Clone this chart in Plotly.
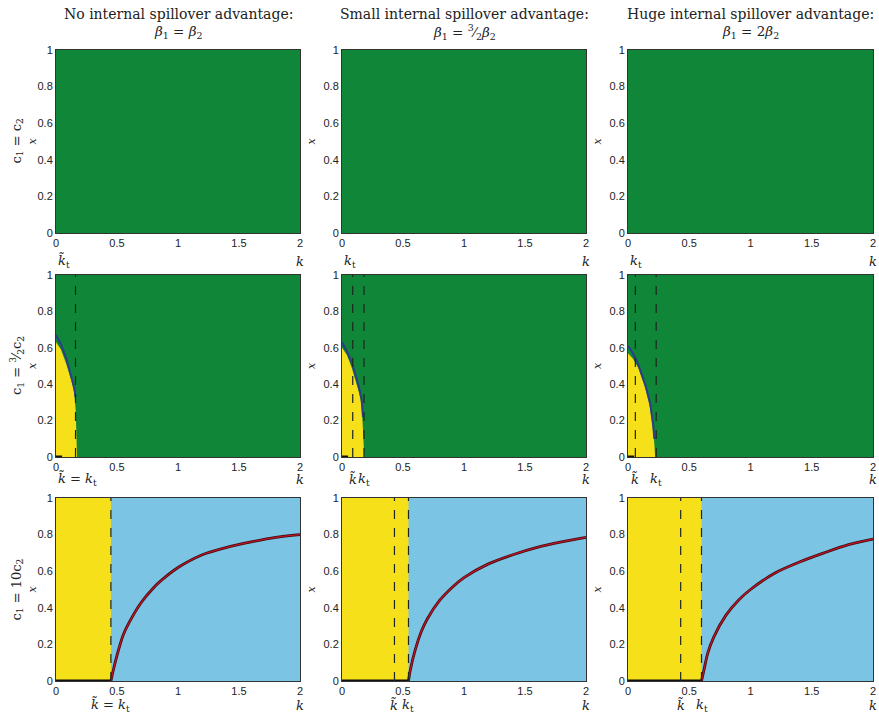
import plotly.graph_objects as go

# ---------------- data ----------------
col_titles = ["No internal spillover advantage:", "Small internal spillover advantage:", "Huge internal spillover advantage:"]
col_subtitles = ["<i>β</i><sub>1</sub> = <i>β</i><sub>2</sub>",
                 "<i>β</i><sub>1</sub> = <sup>3</sup>⁄<sub>2</sub><i>β</i><sub>2</sub>",
                 "<i>β</i><sub>1</sub> = 2<i>β</i><sub>2</sub>"]
row_labels = ["c<sub>1</sub> = c<sub>2</sub>", "c<sub>1</sub> = <sup>3</sup>⁄<sub>2</sub>c<sub>2</sub>", "c<sub>1</sub> = 10c<sub>2</sub>"]
x_ticks = [0, 0.5, 1, 1.5, 2]
x_ticklabels = ["0", "0.5", "1", "1.5", "2"]
y_ticks = [0, 0.2, 0.4, 0.6, 0.8, 1]
y_ticklabels = ["0", "0.2", "0.4", "0.6", "0.8", "1"]

k_range = [0, 2]
x_range = [0, 1]

# middle row (c1 = 3/2 c2): yellow region boundary and blue boundary curve
mid_yellow_k = [[0, 0, 0.04, 0.085, 0.125, 0.15, 0.162, 0.168, 0.172],
                [0, 0, 0.04, 0.08, 0.137, 0.16, 0.172, 0.178, 0.182],
                [0, 0, 0.04, 0.083, 0.14, 0.18, 0.21, 0.218, 0.222]]
mid_yellow_x = [[0, 0.63, 0.59, 0.51, 0.42, 0.35, 0.25, 0.10, 0],
                [0, 0.60, 0.56, 0.49, 0.36, 0.29, 0.15, 0.06, 0],
                [0, 0.57, 0.54, 0.49, 0.38, 0.27, 0.12, 0.04, 0]]
mid_blue_k = [[0, 0.04, 0.085, 0.125, 0.15, 0.16],
              [0, 0.04, 0.08, 0.137, 0.16, 0.172],
              [0, 0.04, 0.083, 0.14, 0.18, 0.205, 0.215]]
mid_blue_x = [[0.67, 0.62, 0.54, 0.45, 0.38, 0.33],
              [0.63, 0.58, 0.52, 0.39, 0.32, 0.22],
              [0.61, 0.57, 0.51, 0.40, 0.30, 0.18, 0.10]]
mid_black_k = [0, 0.05]
mid_k_tilde = [0.16, 0.088, 0.06]
mid_k_t = [0.16, 0.18, 0.23]

# bottom row (c1 = 10 c2): threshold and curve
bot_k_tilde = [0.45, 0.43, 0.43]
bot_k_t = [0.45, 0.545, 0.60]
bot_curve_k = [[0.45, 0.47, 0.5, 0.55, 0.6, 0.7, 0.8, 0.9, 1.0, 1.2, 1.4, 1.6, 1.8, 2.0],
               [0.545, 0.56, 0.6, 0.65, 0.7, 0.8, 0.9, 1.0, 1.2, 1.4, 1.6, 1.8, 2.0],
               [0.6, 0.62, 0.65, 0.7, 0.8, 0.9, 1.0, 1.2, 1.4, 1.6, 1.8, 2.0]]
bot_curve_x = [[0.0, 0.06, 0.14, 0.25, 0.32, 0.43, 0.51, 0.57, 0.62, 0.69, 0.73, 0.76, 0.785, 0.80],
               [0.0, 0.06, 0.17, 0.27, 0.34, 0.44, 0.51, 0.565, 0.64, 0.69, 0.73, 0.76, 0.785],
               [0.0, 0.06, 0.15, 0.24, 0.36, 0.44, 0.50, 0.59, 0.65, 0.70, 0.745, 0.775]]

# ---------------- style ----------------
GREEN = "#108638"
YELLOW = "#f6e01a"
BLUE = "#7cc4e4"
NAVY = "#2d3c8c"
RED = "#c0142a"
DASH = "#1e261e"
TXT = "#222"

W, H = 879, 718
col_px = [(56, 300), (342, 586), (628, 873)]
row_px = [(50, 233), (275, 457), (498, 681)]
label_y_px = [261, 479, 705]

def px_x(v):
    return v / W

def px_y(v):
    return 1 - v / H

fig = go.Figure()

def ax_id(r, c):
    return r * 3 + c + 1

def refs(r, c):
    n = ax_id(r, c)
    return ("x" if n == 1 else f"x{n}"), ("y" if n == 1 else f"y{n}")

for r in range(3):
    for c in range(3):
        xr, yr = refs(r, c)
        bg = BLUE if r == 2 else GREEN
        fig.add_trace(go.Scatter(x=[k_range[0], k_range[1], k_range[1], k_range[0]],
                                 y=[x_range[0], x_range[0], x_range[1], x_range[1]],
                                 fill="toself", fillcolor=bg, mode="none",
                                 xaxis=xr, yaxis=yr, hoverinfo="skip"))
        if r == 1:
            fig.add_trace(go.Scatter(x=mid_yellow_k[c], y=mid_yellow_x[c], fill="toself",
                                     fillcolor=YELLOW, mode="none", xaxis=xr, yaxis=yr))
            fig.add_trace(go.Scatter(x=mid_blue_k[c], y=mid_blue_x[c], mode="lines",
                                     line=dict(color=NAVY, width=2), xaxis=xr, yaxis=yr))
            fig.add_trace(go.Scatter(x=mid_black_k, y=[0, 0], mode="lines",
                                     line=dict(color="#111", width=3), xaxis=xr, yaxis=yr))
            for kv in sorted(set([mid_k_tilde[c], mid_k_t[c]])):
                fig.add_trace(go.Scatter(x=[kv, kv], y=x_range, mode="lines",
                                         line=dict(color=DASH, width=1.2, dash="dash"),
                                         xaxis=xr, yaxis=yr))
        if r == 2:
            fig.add_trace(go.Scatter(x=[0, bot_k_t[c], bot_k_t[c], 0], y=[0, 0, 1, 1],
                                     fill="toself", fillcolor=YELLOW, mode="none",
                                     xaxis=xr, yaxis=yr))
            fig.add_trace(go.Scatter(x=[0, bot_k_t[c]], y=[0, 0], mode="lines",
                                     line=dict(color="#111", width=3), xaxis=xr, yaxis=yr))
            fig.add_trace(go.Scatter(x=bot_curve_k[c], y=bot_curve_x[c], mode="lines",
                                     line=dict(color="#3a0c0c", width=2.8, shape="spline", smoothing=0.8),
                                     xaxis=xr, yaxis=yr))
            fig.add_trace(go.Scatter(x=bot_curve_k[c], y=bot_curve_x[c], mode="lines",
                                     line=dict(color=RED, width=1.3, shape="spline", smoothing=0.8),
                                     xaxis=xr, yaxis=yr))
            for kv in sorted(set([bot_k_tilde[c], bot_k_t[c]])):
                fig.add_trace(go.Scatter(x=[kv, kv], y=x_range, mode="lines",
                                         line=dict(color=DASH, width=1.2, dash="dash"),
                                         xaxis=xr, yaxis=yr))

layout = dict(width=W, height=H, margin=dict(l=0, r=0, t=0, b=0, autoexpand=False),
              paper_bgcolor="white", plot_bgcolor="white", showlegend=False)
tickfont = dict(family="Liberation Sans, Arial", size=11, color=TXT)
for r in range(3):
    for c in range(3):
        n = ax_id(r, c)
        xk = "xaxis" if n == 1 else f"xaxis{n}"
        yk = "yaxis" if n == 1 else f"yaxis{n}"
        x0, x1 = col_px[c]
        y0, y1 = row_px[r]
        layout[xk] = dict(domain=[px_x(x0), px_x(x1)], range=k_range, tickvals=x_ticks,
                          ticktext=x_ticklabels, showgrid=False, zeroline=False,
                          showline=True, mirror=True, linecolor="#333", linewidth=1,
                          ticks="", tickfont=tickfont, anchor="y" if n == 1 else f"y{n}",
                          fixedrange=True)
        layout[yk] = dict(domain=[px_y(y1), px_y(y0)], range=x_range, tickvals=y_ticks,
                          ticktext=y_ticklabels, showgrid=False, zeroline=False,
                          showline=True, mirror=True, linecolor="#333", linewidth=1,
                          ticks="", tickfont=tickfont, anchor="x" if n == 1 else f"x{n}",
                          fixedrange=True)
fig.update_layout(**layout)

serif = "DejaVu Serif"
ann = []
def add(text, x, y, xref="paper", size=13, angle=0, xanchor="center"):
    ann.append(dict(text=text, x=x, y=y, xref=xref, yref="paper", showarrow=False,
                    xanchor=xanchor, yanchor="middle", textangle=angle,
                    font=dict(family=serif, size=size, color=TXT)))

for c in range(3):
    cx = px_x((col_px[c][0] + col_px[c][1]) / 2)
    add(col_titles[c], cx, px_y(14), size=14)
    add(col_subtitles[c], cx, px_y(32), size=13.5)

for r in range(3):
    cy = px_y((row_px[r][0] + row_px[r][1]) / 2)
    add(row_labels[r], px_x(17), cy, size=13, angle=-90)
    for c in range(3):
        add("<i>x</i>", px_x(col_px[c][0] - (24 if c == 0 else 31)), cy, size=11, angle=-90)

kt_lab = "<i>k</i><sub>t</sub>"
ktil = "<i>k\u0303</i>"
for r in range(3):
    ly = px_y(label_y_px[r])
    for c in range(3):
        xr, _ = refs(r, c)
        add("<i>k</i>", 2, ly, xref=xr)
        if r == 0:
            add(("<i>k\u0303</i><sub>t</sub>" if c == 0 else kt_lab), 0, ly, xref=xr, xanchor="left")
        elif r == 1:
            if c == 0:
                add(ktil + " = " + kt_lab, 0, ly, xref=xr, xanchor="left")
            else:
                add(ktil, mid_k_tilde[c], ly, xref=xr)
                add(kt_lab, mid_k_t[c], ly, xref=xr)
        else:
            if c == 0:
                add(ktil + " = " + kt_lab, bot_k_t[c], ly, xref=xr)
            else:
                add(ktil, bot_k_tilde[c], ly, xref=xr)
                add(kt_lab, bot_k_t[c], ly, xref=xr)
fig.update_layout(annotations=ann)

fig.write_html("out.html", config={"displayModeBar": False},
               post_script="document.body.style.margin='0';document.body.style.overflow='hidden';")
